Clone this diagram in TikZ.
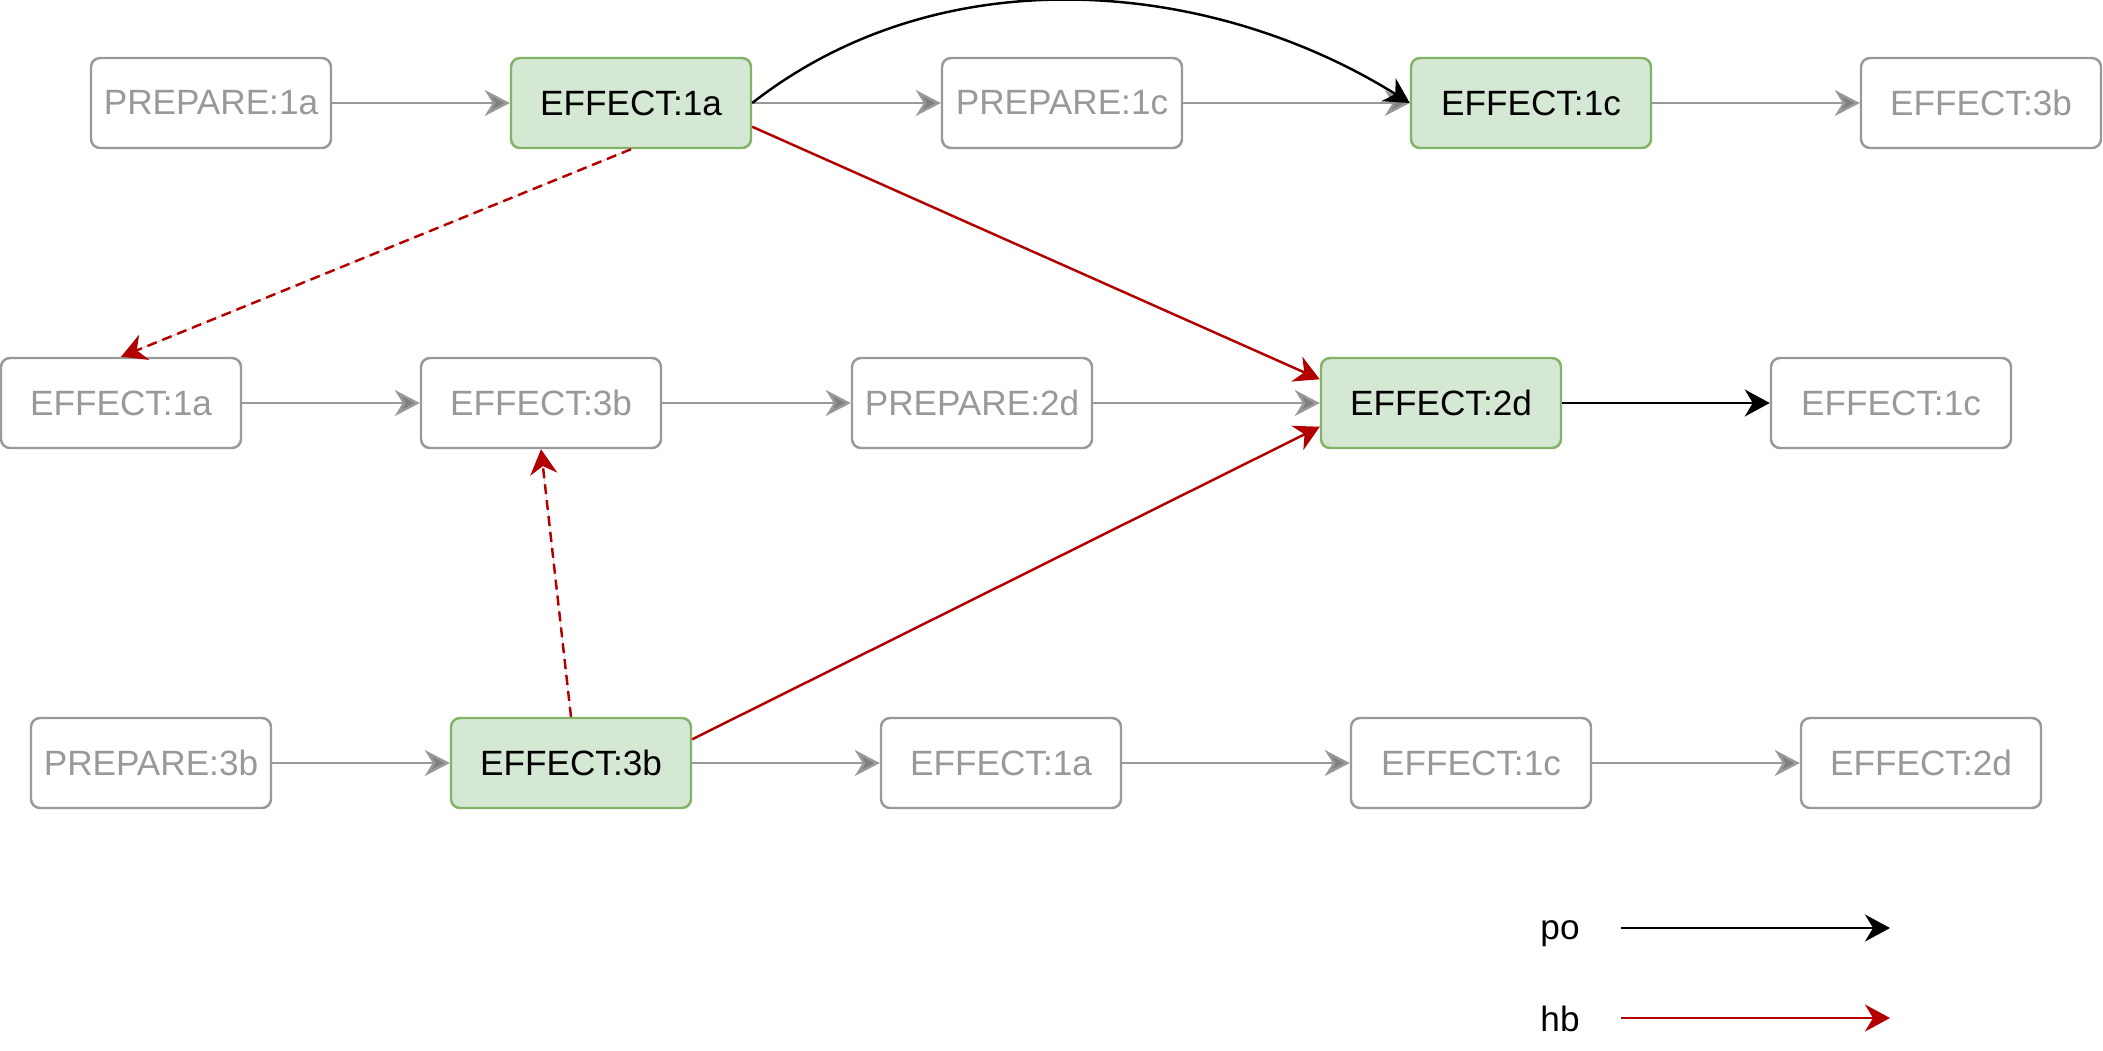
\documentclass[tikz,border=0pt]{standalone}
\usepackage{fontspec}
\setmainfont{Liberation Sans}
\usepackage{tikz}
\usetikzlibrary{arrows.meta, positioning}
\usepackage{xcolor}
\definecolor{evgray}{RGB}{153,153,153}
\definecolor{tipgray}{RGB}{128,128,128}
\definecolor{evfill}{RGB}{213,232,212}
\definecolor{evline}{RGB}{130,179,102}
\definecolor{hbred}{RGB}{178,0,0}

\begin{document}
\begin{tikzpicture}[
    scale=1,
    evbox/.style={rectangle, rounded corners=0.09cm, draw=evgray, line width=0.7pt, minimum height=0.9cm, minimum width=2.4cm, inner sep=1pt, text=evgray, font=\fontsize{10}{12}\selectfont},
    hlbox/.style={evbox, draw=evline, fill=evfill, text=black},
    poline/.style={-{Stealth[length=0.25cm, width=0.27cm, inset=0.08cm]}, line width=0.7pt},
    seqline/.style={-{Stealth[length=0.25cm, width=0.26cm, inset=0.08cm, fill=tipgray]}, draw=evgray, line width=0.7pt},
    hbline/.style={poline, draw=hbred, fill=hbred},
    hbdash/.style={hbline, dash pattern=on 0.1cm off 0.06cm}
]
    \useasboundingbox (0,0) rectangle (21.03,-10.50);

    % Thread 1 - top row
    \node[evbox] (a1) at (2.11, -1.03) {PREPARE:1a};
    \node[hlbox] (a2) at (6.31, -1.03) {EFFECT:1a};
    \node[evbox] (a3) at (10.62, -1.03) {PREPARE:1c};
    \node[hlbox] (a4) at (15.31, -1.03) {EFFECT:1c};
    \node[evbox] (a5) at (19.81, -1.03) {EFFECT:3b};

    % Thread 2 - middle row
    \node[evbox] (b1) at (1.21, -4.03) {EFFECT:1a};
    \node[evbox] (b2) at (5.41, -4.03) {EFFECT:3b};
    \node[evbox] (b3) at (9.72, -4.03) {PREPARE:2d};
    \node[hlbox] (b4) at (14.41, -4.03) {EFFECT:2d};
    \node[evbox] (b5) at (18.91, -4.03) {EFFECT:1c};

    % Thread 3 - bottom row
    \node[evbox] (c1) at (1.51, -7.63) {PREPARE:3b};
    \node[hlbox] (c2) at (5.71, -7.63) {EFFECT:3b};
    \node[evbox] (c3) at (10.01, -7.63) {EFFECT:1a};
    \node[evbox] (c4) at (14.71, -7.63) {EFFECT:1c};
    \node[evbox] (c5) at (19.21, -7.63) {EFFECT:2d};

    % Sequence arrows (grey)
    \foreach \s/\t in {a1/a2, a2/a3, a3/a4, a4/a5, b1/b2, b2/b3, b3/b4, c1/c2, c2/c3, c3/c4, c4/c5} {
        \draw[seqline] (\s) -- (\t);
    }

    % po edges
    \draw[poline] (a2.east) .. controls +(38:2.45) and +(148:2.3) .. (a4.west);
    \draw[poline] (b4) -- (b5);

    % hb edges
    \draw[hbline] ([yshift=0.225cm]a2.south east) -- ([yshift=-0.225cm]b4.north west);
    \draw[hbline] ([yshift=-0.225cm]c2.north east) -- ([yshift=0.225cm]b4.south west);
    \draw[hbdash] (a2.south) -- (b1.north);
    \draw[hbdash] (c2.north) -- (b2.south);

    % Legend
    \node[font=\fontsize{10}{12}\selectfont] (lpo) at (15.6, -9.335) {po};
    \coordinate (lpos) at (16.21, -9.28);
    \coordinate (lpoe) at (18.9, -9.28);
    \draw[poline] (lpos) -- (lpoe);

    \node[font=\fontsize{10}{12}\selectfont] (lhb) at (15.6, -10.19) {hb};
    \coordinate (lhbs) at (16.21, -10.18);
    \coordinate (lhbe) at (18.9, -10.18);
    \draw[hbline] (lhbs) -- (lhbe);

\end{tikzpicture}
\end{document}
